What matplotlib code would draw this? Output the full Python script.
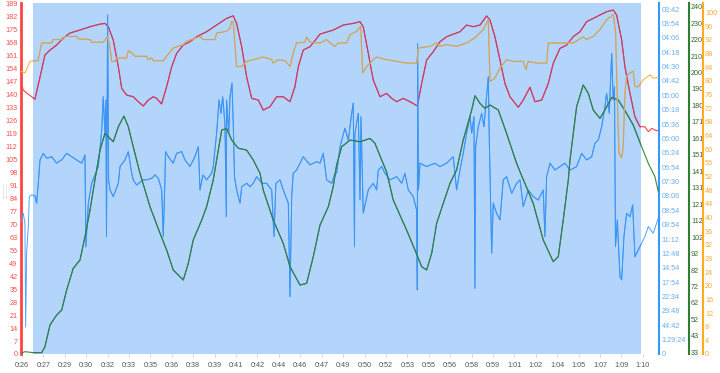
import matplotlib
matplotlib.use("Agg")
import matplotlib.pyplot as plt
from matplotlib.patches import Rectangle
from matplotlib.transforms import blended_transform_factory
import numpy as np

plt.rcParams["font.family"] = ["Liberation Sans", "DejaVu Sans"]

# time axis (minutes)
time_labels = ["0:26", "0:27", "0:29", "0:30", "0:32", "0:33", "0:35", "0:36", "0:38", "0:39",
               "0:41", "0:42", "0:44", "0:46", "0:47", "0:49", "0:50", "0:52", "0:53", "0:55",
               "0:56", "0:58", "0:59", "1:01", "1:02", "1:04", "1:05", "1:07", "1:09", "1:10"]
tick_step = 1.52
lap_start, lap_end = 26.78, 69.95

# heart rate (red, left axis)
hr_t = [25.93, 26.09, 26.33, 26.69, 26.92, 27.28, 27.63, 27.99, 28.46, 28.93, 29.41, 30.12, 30.83,
        31.54, 31.89, 32.13, 32.48, 32.84, 33.08, 33.43, 33.90, 34.26, 34.61, 34.97, 35.32, 35.56,
        35.91, 36.27, 36.63, 36.98, 37.45, 37.93, 38.40, 39.11, 39.82, 40.53, 41.00, 41.24, 41.60,
        41.95, 42.31, 42.78, 43.13, 43.61, 44.08, 44.55, 45.03, 45.38, 45.62, 45.97, 46.45, 47.16,
        48.10, 48.81, 49.52, 50.00, 50.23, 50.59, 50.94, 51.42, 51.89, 52.25, 52.60, 53.07, 53.55,
        54.07, 54.38, 54.73, 55.20, 55.68, 56.15, 57.10, 57.57, 58.04, 58.52, 58.99, 59.23, 59.58,
        59.94, 60.29, 60.65, 61.24, 61.59, 62.07, 62.42, 62.90, 63.37, 63.72, 64.20, 64.67, 65.14,
        65.62, 66.09, 66.80, 67.51, 67.98, 68.22, 68.58, 68.81, 69.17, 69.52, 69.88, 70.23, 70.47,
        70.71, 71.06, 71.23]
hr = [146.3, 142.5, 140.9, 138.9, 137.6, 149.5, 161.4, 164.1, 166.8, 170.6, 173.3, 174.9, 176.7,
      178.1, 178.5, 176.7, 169.5, 155.1, 143.4, 139.8, 138.9, 136.2, 133.9, 137.1, 138.9, 138.0,
      135.0, 144.3, 155.1, 162.3, 166.8, 168.6, 171.3, 174.0, 177.6, 181.2, 182.6, 178.5, 165.9,
      149.7, 138.0, 137.1, 131.7, 133.5, 138.9, 138.9, 136.2, 144.3, 155.1, 164.1, 165.9, 172.7,
      174.9, 177.6, 178.5, 179.4, 176.7, 162.3, 147.9, 138.9, 140.7, 138.0, 136.2, 138.0, 136.2,
      133.9, 146.1, 158.7, 163.2, 168.6, 171.3, 174.0, 177.6, 176.7, 177.6, 182.5, 180.3, 171.3,
      158.7, 146.1, 138.9, 133.2, 137.1, 144.0, 136.2, 137.1, 146.1, 156.9, 165.0, 166.8, 171.3,
      174.0, 179.4, 182.1, 184.8, 185.7, 183.0, 169.5, 155.1, 140.7, 128.1, 122.7, 122.7, 120.0,
      121.8, 120.5, 121.0]

# speed km/h (blue, shown as pace)
sp_t = [25.93, 26.09, 26.21, 26.26, 26.33, 26.45, 26.52, 26.69, 26.92, 27.04, 27.16, 27.28, 27.51,
        27.75, 28.11, 28.46, 28.82, 29.17, 29.53, 29.88, 30.24, 30.47, 30.54, 30.71, 30.95, 31.18,
        31.42, 31.66, 31.77, 31.89, 31.96, 32.00, 32.08, 32.15, 32.25, 32.48, 32.84, 32.96, 33.31,
        33.55, 33.79, 33.90, 34.14, 34.61, 34.85, 35.21, 35.44, 35.68, 35.92, 36.03, 36.15, 36.19,
        36.39, 36.74, 36.98, 37.34, 37.57, 37.93, 38.28, 38.52, 38.64, 38.85, 39.11, 39.47, 39.58,
        39.82, 39.99, 40.13, 40.25, 40.41, 40.51, 40.53, 40.68, 40.77, 40.91, 41.00, 41.09, 41.24,
        41.48, 41.60, 41.95, 42.19, 42.42, 42.66, 43.02, 43.37, 43.73, 43.89, 44.03, 44.32, 44.55,
        44.91, 45.03, 45.15, 45.26, 45.50, 45.97, 46.45, 46.92, 47.16, 47.39, 47.63, 47.99, 48.22,
        48.34, 48.58, 48.93, 49.17, 49.41, 49.52, 49.61, 49.64, 49.88, 50.00, 50.07, 50.23, 50.59,
        50.94, 51.18, 51.30, 51.54, 51.77, 52.13, 52.60, 52.96, 53.19, 53.43, 53.78, 54.02, 54.07,
        54.09, 54.15, 54.26, 54.73, 55.32, 55.68, 56.15, 56.62, 56.86, 57.10, 57.33, 57.57, 57.81,
        57.93, 58.09, 58.16, 58.21, 58.40, 58.64, 58.80, 58.99, 59.11, 59.18, 59.35, 59.46, 59.70,
        59.94, 60.17, 60.41, 60.77, 61.12, 61.36, 61.59, 61.95, 62.30, 62.66, 63.01, 63.13, 63.25,
        63.49, 63.84, 64.20, 64.55, 64.91, 65.38, 65.74, 66.09, 66.45, 66.68, 66.92, 67.16, 67.39,
        67.51, 67.70, 67.87, 67.98, 68.07, 68.14, 68.27, 68.46, 68.58, 68.74, 68.93, 69.17, 69.36,
        69.52, 69.76, 70.00, 70.23, 70.47, 70.82, 71.18]
speed = [6.16, 6.57, 6.10, 1.26, 4.72, 5.95, 7.35, 7.43, 7.38, 7.04, 7.99, 9.06, 9.37,
         9.14, 9.21, 8.91, 9.06, 9.37, 9.21, 9.06, 8.91, 9.29, 5.01, 7.04, 7.97, 8.36,
         8.75, 10.46, 12.01, 10.31, 11.86, 5.48, 15.83, 8.13, 7.66, 7.35, 7.97, 8.75, 9.06,
         9.45, 8.44, 8.13, 7.89, 8.13, 8.13, 8.20, 8.36, 8.20, 7.66, 5.48, 8.13, 9.45,
         9.21, 8.91, 9.37, 9.45, 9.06, 8.75, 9.21, 9.68, 7.66, 8.36, 8.13, 8.44, 8.75,
         10.31, 11.86, 11.24, 12.01, 10.77, 6.41, 11.86, 10.31, 12.01, 12.64, 10.77, 8.28, 7.66,
         7.04, 7.81, 7.97, 7.81, 7.97, 8.28, 7.97, 7.97, 7.66, 5.48, 7.97, 8.13, 7.66,
         7.04, 2.68, 7.35, 8.44, 8.59, 9.21, 8.83, 8.98, 8.91, 9.37, 8.13, 7.97, 8.44,
         8.44, 9.68, 10.54, 9.99, 11.24, 11.71, 5.01, 10.31, 11.24, 7.19, 11.08, 6.57, 7.66,
         7.97, 7.66, 8.59, 8.75, 8.44, 8.13, 8.28, 7.97, 8.44, 7.66, 7.35, 6.72, 2.99,
         14.51, 7.66, 8.91, 8.75, 8.91, 8.75, 8.91, 9.21, 7.66, 8.59, 9.37, 10.31, 11.08,
         10.31, 11.08, 3.07, 9.68, 10.61, 11.24, 10.61, 12.01, 12.95, 9.99, 4.70, 7.04, 6.57,
         6.26, 8.13, 8.28, 7.50, 7.97, 8.13, 6.88, 7.66, 7.35, 7.19, 7.66, 5.48, 8.28,
         8.91, 8.59, 8.75, 8.91, 8.59, 8.75, 9.37, 9.06, 9.21, 9.84, 9.99, 10.61, 11.55,
         12.17, 11.24, 14.04, 11.86, 12.48, 5.01, 6.26, 3.61, 3.46, 5.48, 6.57, 6.41, 6.96,
         4.54, 4.86, 5.17, 5.48, 5.95, 5.64, 6.34]
pace_step = 0.6711
pace_labels = ["0", "1:29:24", "44:42", "29:48", "22:34", "17:54", "14:54", "12:48", "11:12",
               "09:54", "08:54", "08:06", "07:30", "06:54", "06:24", "06:00", "05:36", "05:18",
               "05:00", "04:42", "04:30", "04:18", "04:06", "03:54", "03:42"]

# elevation (green)
el_t = [25.93, 26.21, 26.80, 27.40, 27.63, 27.99, 28.46, 28.82, 29.17, 29.64, 30.12, 30.47, 30.83,
        31.18, 31.54, 31.89, 32.13, 32.48, 32.84, 33.24, 33.55, 33.90, 34.38, 35.09, 35.80, 36.27,
        36.74, 37.45, 37.81, 38.16, 38.76, 39.11, 39.58, 39.94, 40.18, 40.53, 40.89, 41.36, 41.95,
        42.42, 42.90, 43.13, 43.84, 44.55, 45.03, 45.74, 46.21, 46.68, 47.16, 47.75, 48.10, 48.34,
        48.70, 49.29, 50.00, 50.71, 51.06, 51.54, 51.89, 52.36, 53.31, 53.90, 54.38, 54.73, 55.09,
        55.44, 55.91, 56.39, 56.86, 57.33, 57.93, 58.16, 58.52, 58.87, 59.23, 59.82, 60.41, 61.12,
        61.36, 62.30, 63.01, 63.72, 64.08, 64.43, 64.79, 64.91, 65.38, 65.85, 66.21, 66.56, 67.04,
        67.39, 67.87, 68.34, 68.93, 69.40, 70.00, 70.47, 70.94, 71.18]
elev = [32.4, 33.4, 32.8, 32.8, 36.4, 49.4, 55.3, 58.3, 70.3, 83.3, 88.3, 102.2, 118.2,
        136.2, 154.1, 164.1, 162.1, 159.1, 168.1, 174.5, 168.1, 156.1, 140.2, 120.2, 104.3, 94.3,
        82.3, 76.3, 86.3, 100.3, 112.2, 120.2, 136.2, 154.1, 166.1, 167.1, 160.1, 155.2, 154.1,
        148.2, 140.2, 130.2, 112.2, 98.3, 84.3, 73.3, 74.3, 90.2, 109.2, 120.2, 132.2, 145.2,
        156.1, 160.1, 159.1, 161.1, 158.2, 148.2, 141.0, 124.2, 106.2, 94.3, 84.3, 82.3, 92.3,
        110.2, 122.2, 134.2, 142.2, 160.1, 178.1, 186.7, 182.1, 179.1, 181.1, 178.1, 164.1, 146.2,
        141.2, 122.2, 100.3, 87.3, 90.3, 112.2, 136.2, 148.2, 180.1, 193.1, 188.1, 178.1, 173.1,
        178.1, 185.7, 184.1, 176.1, 169.1, 156.1, 146.2, 138.2, 129.2]
elev_labels = ["33", "43", "52", "62", "72", "82", "92", "102", "112", "121", "131", "141",
               "151", "161", "171", "180", "190", "200", "210", "220", "230", "240"]

# cadence (orange)
cd_t = [25.93, 26.21, 26.57, 26.92, 27.14, 27.40, 28.11, 28.22, 28.93, 29.05, 29.88, 30.00, 30.83,
        30.95, 31.77, 32.06, 32.20, 32.37, 32.60, 32.72, 33.43, 33.55, 33.79, 34.02, 34.85, 34.97,
        35.21, 35.32, 36.03, 36.27, 36.74, 37.45, 37.69, 38.64, 38.87, 39.70, 39.82, 40.53, 40.77,
        40.89, 41.00, 41.24, 41.60, 41.95, 42.42, 43.13, 43.73, 43.84, 44.20, 44.67, 45.03, 45.26,
        45.50, 46.09, 46.21, 46.45, 47.16, 47.63, 47.87, 48.22, 48.46, 49.05, 49.29, 49.76, 50.05,
        50.19, 50.47, 50.71, 50.94, 51.18, 51.89, 53.31, 54.02, 54.14, 54.97, 55.44, 55.68, 56.15,
        56.86, 57.57, 58.16, 58.75, 59.11, 59.23, 59.58, 59.94, 60.41, 60.88, 61.59, 61.78, 61.95,
        62.54, 63.25, 63.37, 65.14, 65.85, 66.09, 66.56, 67.04, 67.51, 67.98, 68.15, 68.27, 68.39,
        68.58, 68.69, 68.81, 68.93, 69.17, 69.40, 69.52, 69.76, 70.11, 70.59, 70.82, 71.18]
cadence = [82.8, 82.3, 85.7, 85.9, 85.9, 91.1, 91.1, 92.1, 92.1, 93.0, 93.0, 92.3, 92.1,
           91.3, 91.3, 92.9, 91.1, 85.7, 85.7, 86.7, 86.7, 88.9, 88.2, 87.2, 87.2, 86.2,
           86.7, 85.9, 85.9, 87.2, 89.6, 90.6, 91.6, 93.0, 92.1, 92.1, 94.0, 94.5, 95.5,
           97.4, 97.3, 84.2, 84.2, 85.7, 86.2, 87.0, 86.2, 85.2, 86.2, 85.9, 84.2, 88.2,
           91.1, 91.3, 92.9, 91.3, 91.1, 92.1, 91.1, 90.1, 91.1, 91.1, 93.5, 94.5, 96.0,
           82.3, 84.2, 85.2, 86.2, 87.0, 86.2, 85.2, 85.2, 89.6, 90.1, 91.1, 90.1, 90.6,
           90.1, 91.1, 92.6, 95.0, 97.9, 79.8, 80.8, 83.8, 86.2, 85.7, 85.7, 83.3, 85.7,
           85.2, 85.2, 91.1, 91.1, 92.9, 92.1, 93.0, 95.0, 97.9, 99.4, 94.0, 74.5, 58.8,
           57.4, 60.8, 76.4, 81.3, 82.3, 82.8, 78.4, 78.2, 80.3, 81.8, 80.8, 81.0]

fig = plt.figure(figsize=(7.2, 3.73), dpi=100)
ax = fig.add_axes([21 / 720, 19 / 373, 638 / 720, 351 / 373])
ax_b = ax.twinx()
ax_g = ax.twinx()
ax_o = ax.twinx()

ax.set_xlim(25.93, 71.23)
ax.axvspan(lap_start, lap_end, color="#b3d4fb", lw=0, zorder=0)
clip = Rectangle((lap_start, 0), lap_end - lap_start, 1,
                 transform=blended_transform_factory(ax.transData, ax.transAxes))


def two_tone(a, x, y, c_out, c_in, lw):
    # plain colour outside the highlighted lap, darker tint inside it
    a.plot(x, y, color=c_out, lw=lw, zorder=2)
    ln, = a.plot(x, y, color=c_in, lw=lw, zorder=3)
    ln.set_clip_path(clip)


two_tone(ax, hr_t, hr, "#f4434f", "#c0406e", 0.8)
two_tone(ax_b, sp_t, speed, "#4aa3ff", "#3b93f2", 0.7)
two_tone(ax_g, el_t, elev, "#3b8a3b", "#2e7d5e", 0.8)
two_tone(ax_o, cd_t, cadence, "#ffb444", "#c0a670", 0.8)

ax.set_ylim(0, 189.5)
ax_b.set_ylim(0, 24.42 * pace_step)
ax_g.set_ylim(32.0, 242.2)
ax_o.set_ylim(0, 102.8)

fs = 5.2
ax.set_yticks(np.arange(0, 190, 7))
ax.tick_params(axis="y", length=0, pad=2.5, labelsize=fs, labelcolor="#ff4d4d")
ax.set_xticks(26 + tick_step * np.arange(len(time_labels)))
ax.set_xticklabels(time_labels)
ax.tick_params(axis="x", length=2, width=0.6, color="#cccccc", pad=4, labelsize=fs, labelcolor="#555555")

ax_b.set_yticks(pace_step * np.arange(len(pace_labels)))
ax_b.set_yticklabels(pace_labels)
ax_b.tick_params(axis="y", length=0, pad=2, labelsize=fs, labelcolor="#66aef5")

ax_g.set_yticks(np.linspace(33, 240, len(elev_labels)))
ax_g.set_yticklabels(elev_labels)
ax_g.tick_params(axis="y", length=0, pad=1.5, labelsize=fs, labelcolor="#2e6b2e")

ax_o.set_yticks(np.arange(0, 101, 4))
ax_o.tick_params(axis="y", length=0, pad=1.5, labelsize=fs, labelcolor="#ffaa33")

for a in (ax, ax_b, ax_g, ax_o):
    for s in ("top", "bottom"):
        a.spines[s].set_visible(False)
ax.spines["right"].set_visible(False)
ax.spines["left"].set_color("#ff4444")
ax.spines["left"].set_linewidth(2)
for a in (ax_b, ax_g, ax_o):
    a.spines["left"].set_visible(False)
ax_b.spines["right"].set_color("#3399ff")
ax_b.spines["right"].set_linewidth(1.5)
ax_g.spines["right"].set_position(("outward", 21.6))
ax_g.spines["right"].set_color("#2e7d32")
ax_g.spines["right"].set_linewidth(1.5)
ax_o.spines["right"].set_position(("outward", 31.7))
ax_o.spines["right"].set_color("#ffaa22")
ax_o.spines["right"].set_linewidth(1.5)

fig.text(0.003, 0.49, "::::::::", rotation=90, fontsize=5, color="#999999", va="center")

fig.savefig("out.png", dpi=100)
